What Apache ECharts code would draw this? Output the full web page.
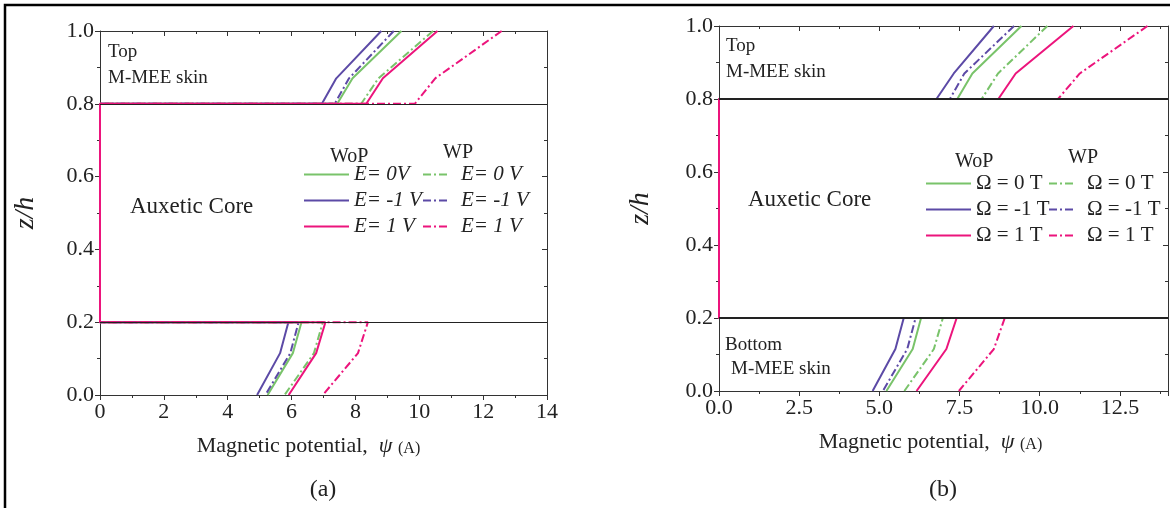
<!DOCTYPE html>
<html>
<head>
<meta charset="utf-8">
<script src="https://cdn.jsdelivr.net/npm/echarts@6/dist/echarts.min.js"></script>
<style>
  html, body { margin: 0; padding: 0; background: #fff; }
  #main { width: 1170px; height: 508px; }
</style>
</head>
<body>
<div id="main"></div>
<script>
// z/h levels where the curves are sampled (top skin and bottom skin)
var zTop = [0.8, 0.87, 1.0];
var zBot = [0.2, 0.115, 0.0];

// panel (a): psi at zTop / zBot
var aWoP0Top = [7.43, 7.91, 9.44];
var aWoPm1Top = [6.95, 7.40, 8.81];
var aWoPp1Top = [8.34, 8.86, 10.57];
var aWP0Top = [8.18, 8.72, 10.43];
var aWPm1Top = [7.35, 7.80, 9.20];
var aWPp1Top = [9.86, 10.50, 12.58];
var aWoP0Bot = [6.31, 6.04, 5.25];
var aWoPm1Bot = [5.90, 5.64, 4.92];
var aWoPp1Bot = [7.06, 6.77, 5.91];
var aWP0Bot = [6.98, 6.70, 5.78];
var aWPm1Bot = [6.22, 5.96, 5.18];
var aWPp1Bot = [8.39, 8.08, 6.98];

// panel (b)
var bWoP0Top = [7.43, 7.90, 9.43];
var bWoPm1Top = [6.78, 7.32, 8.57];
var bWoPp1Top = [8.71, 9.25, 11.05];
var bWP0Top = [8.19, 8.70, 10.24];
var bWPm1Top = [7.20, 7.65, 9.20];
var bWPp1Top = [10.57, 11.25, 13.36];
var bWoP0Bot = [6.30, 6.04, 5.22];
var bWoPm1Bot = [5.76, 5.50, 4.79];
var bWoPp1Bot = [7.41, 7.09, 6.16];
var bWP0Bot = [6.98, 6.70, 5.78];
var bWPm1Bot = [6.13, 5.87, 5.11];
var bWPp1Bot = [8.91, 8.57, 7.48];

// skin / core interfaces
var interfaceA = [0.797, 0.197];
var interfaceB = [0.795, 0.195];

var legendText = {
  'a-WoP-0': 'E= 0V', 'a-WoP-m1': 'E= -1 V', 'a-WoP-p1': 'E= 1 V',
  'a-WP-0': 'E= 0 V', 'a-WP-m1': 'E= -1 V', 'a-WP-p1': 'E= 1 V',
  'b-WoP-0': 'Ω = 0 T', 'b-WoP-m1': 'Ω = -1 T', 'b-WoP-p1': 'Ω = 1 T',
  'b-WP-0': 'Ω = 0 T', 'b-WP-m1': 'Ω = -1 T', 'b-WP-p1': 'Ω = 1 T'
};

var GREEN = '#79c36a', PURPLE = '#5c4aa6', PINK = '#ec147c';
var DASHDOT = [8, 3, 2, 3];
var FONT = 'Liberation Serif';

function buildPath(top, bot) {
  return [
    [top[2], zTop[2]], [top[1], zTop[1]], [top[0], zTop[0]],
    [0, zTop[0]], [0, zBot[0]],
    [bot[0], zBot[0]], [bot[1], zBot[1]], [bot[2], zBot[2]]
  ];
}

function mkSeries(name, idx, top, bot, color, dashed, lines) {
  var s = {
    name: name,
    type: 'line',
    xAxisIndex: idx * 2,
    yAxisIndex: idx * 2,
    symbol: 'none',
    showSymbol: false,
    animation: false,
    lineStyle: { color: color, width: 2, type: dashed ? DASHDOT : 'solid' },
    itemStyle: { color: color },
    data: buildPath(top, bot)
  };
  if (lines) {
    s.markLine = {
      silent: true,
      symbol: ['none', 'none'],
      label: { show: false },
      animation: false,
      lineStyle: { color: '#222', width: idx === 0 ? 1 : 2, type: 'solid' },
      data: [{ yAxis: lines[0] }, { yAxis: lines[1] }]
    };
  }
  return s;
}

function xAxes(gi, interval, decimals, shift) {
  var lab = { fontFamily: FONT, fontSize: 22, color: '#222', margin: 6,
    formatter: function (v) { return decimals ? v.toFixed(1) : String(v); } };
  if (decimals) { lab.showMaxLabel = false; }
  var main = {
    type: 'value', gridIndex: gi, min: 0, max: 14, interval: interval,
    position: 'bottom',
    axisLine: { onZero: false, lineStyle: { color: '#333', width: 1 } },
    axisTick: { inside: false, length: 5, lineStyle: { color: '#333' } },
    minorTick: { show: true, splitNumber: 2, length: 3, lineStyle: { color: '#333' } },
    splitLine: { show: false },
    axisLabel: lab,
    name: '{a|Magnetic potential,  }{b|ψ }{c|(A)}',
    nameLocation: 'middle',
    nameGap: 40,
    nameTextStyle: {
      padding: [0, shift, 0, 0],
      rich: {
        a: { fontFamily: FONT, fontSize: 22, color: '#222' },
        b: { fontFamily: FONT, fontSize: 22, fontStyle: 'italic', color: '#222' },
        c: { fontFamily: FONT, fontSize: 16, color: '#222', verticalAlign: 'bottom', padding: [6, 0, 0, 0] }
      }
    }
  };
  var mirror = {
    type: 'value', gridIndex: gi, min: 0, max: 14, interval: interval,
    position: 'top',
    axisLine: { onZero: false, lineStyle: { color: '#333', width: 1 } },
    axisTick: { inside: true, length: 5, lineStyle: { color: '#333' } },
    minorTick: { show: true, splitNumber: 2, length: 3, lineStyle: { color: '#333' } },
    splitLine: { show: false },
    axisLabel: { show: false }
  };
  return [main, mirror];
}

function yAxes(gi, nameGap) {
  var main = {
    type: 'value', gridIndex: gi, min: 0, max: 1, interval: 0.2,
    position: 'left',
    axisLine: { onZero: false, lineStyle: { color: '#333', width: 1 } },
    axisTick: { inside: false, length: 5, lineStyle: { color: '#333' } },
    minorTick: { show: true, splitNumber: 2, length: 3, lineStyle: { color: '#333' } },
    splitLine: { show: false },
    axisLabel: { fontFamily: FONT, fontSize: 22, color: '#222', margin: 6,
      formatter: function (v) { return v.toFixed(1); } },
    name: 'z/h',
    nameLocation: 'middle',
    nameGap: nameGap,
    nameRotate: 90,
    nameTextStyle: { fontFamily: FONT, fontSize: 28, fontStyle: 'italic', color: '#222' }
  };
  var mirror = {
    type: 'value', gridIndex: gi, min: 0, max: 1, interval: 0.2,
    position: 'right',
    axisLine: { onZero: false, lineStyle: { color: '#333', width: 1 } },
    axisTick: { inside: true, length: 5, lineStyle: { color: '#333' } },
    minorTick: { show: true, splitNumber: 2, length: 3, lineStyle: { color: '#333' } },
    splitLine: { show: false },
    axisLabel: { show: false }
  };
  return [main, mirror];
}

function mkLegend(names, left, top, width, italic, textPad) {
  return {
    data: names,
    orient: 'vertical',
    left: left,
    top: top,
    itemWidth: width,
    itemHeight: 14,
    itemGap: 5,
    selectedMode: false,
    padding: 0,
    itemStyle: { opacity: 0, borderWidth: 0 },
    formatter: function (n) { return legendText[n]; },
    textStyle: {
      fontFamily: FONT, fontSize: 21, color: '#222',
      fontStyle: italic ? 'italic' : 'normal',
      padding: [0, 0, 0, textPad]
    }
  };
}

var chart = echarts.init(document.getElementById('main'));

var xs = xAxes(0, 2, false, 30).concat(xAxes(1, 2.5, true, 26));
var ys = yAxes(0, 60).concat(yAxes(1, 64));
var series = [
  mkSeries('a-WoP-0', 0, aWoP0Top, aWoP0Bot, GREEN, false, interfaceA),
  mkSeries('a-WoP-m1', 0, aWoPm1Top, aWoPm1Bot, PURPLE, false),
  mkSeries('a-WP-0', 0, aWP0Top, aWP0Bot, GREEN, true),
  mkSeries('a-WP-m1', 0, aWPm1Top, aWPm1Bot, PURPLE, true),
  mkSeries('a-WP-p1', 0, aWPp1Top, aWPp1Bot, PINK, true),
  mkSeries('a-WoP-p1', 0, aWoPp1Top, aWoPp1Bot, PINK, false),
  mkSeries('b-WoP-0', 1, bWoP0Top, bWoP0Bot, GREEN, false, interfaceB),
  mkSeries('b-WoP-m1', 1, bWoPm1Top, bWoPm1Bot, PURPLE, false),
  mkSeries('b-WP-0', 1, bWP0Top, bWP0Bot, GREEN, true),
  mkSeries('b-WP-m1', 1, bWPm1Top, bWPm1Bot, PURPLE, true),
  mkSeries('b-WP-p1', 1, bWPp1Top, bWPp1Bot, PINK, true),
  mkSeries('b-WoP-p1', 1, bWoPp1Top, bWoPp1Bot, PINK, false)
];

function txt(x, y, s, size, align) {
  return { type: 'text', x: x, y: y, silent: true,
    style: { text: s, fontFamily: FONT, fontSize: size, fill: '#222',
      align: align || 'left', verticalAlign: 'middle' } };
}

chart.setOption({
  backgroundColor: '#fff',
  animation: false,
  grid: [
    { left: 100, right: 623, top: 31, bottom: 113 },
    { left: 719, right: 2, top: 26, bottom: 117 }
  ],
  xAxis: xs,
  yAxis: ys,
  legend: [
    mkLegend(['a-WoP-0', 'a-WoP-m1', 'a-WoP-p1'], 303, 164, 45, true, 0),
    mkLegend(['a-WP-0', 'a-WP-m1', 'a-WP-p1'], 422, 164, 25, true, 8),
    mkLegend(['b-WoP-0', 'b-WoP-m1', 'b-WoP-p1'], 925, 173, 45, false, 0),
    mkLegend(['b-WP-0', 'b-WP-m1', 'b-WP-p1'], 1048, 173, 25, false, 8)
  ],
  series: series,
  graphic: [
    { type: 'rect', silent: true, shape: { x: 5, y: 5, width: 1400, height: 800 },
      style: { fill: 'none', stroke: '#000', lineWidth: 2.5 } },
    txt(108, 52, 'Top', 19),
    txt(108, 78, 'M-MEE skin', 19),
    txt(130, 207, 'Auxetic Core', 23),
    txt(330, 157, 'WoP', 20),
    txt(443, 153, 'WP', 20),
    txt(726, 46, 'Top', 19),
    txt(726, 72, 'M-MEE skin', 19),
    txt(748, 200, 'Auxetic Core', 23),
    txt(955, 162, 'WoP', 20),
    txt(1068, 158, 'WP', 20),
    txt(725, 345, 'Bottom', 19),
    txt(731, 369, 'M-MEE skin', 19),
    txt(323, 490, '(a)', 24, 'center'),
    txt(943, 490, '(b)', 24, 'center')
  ]
});
</script>
</body>
</html>
